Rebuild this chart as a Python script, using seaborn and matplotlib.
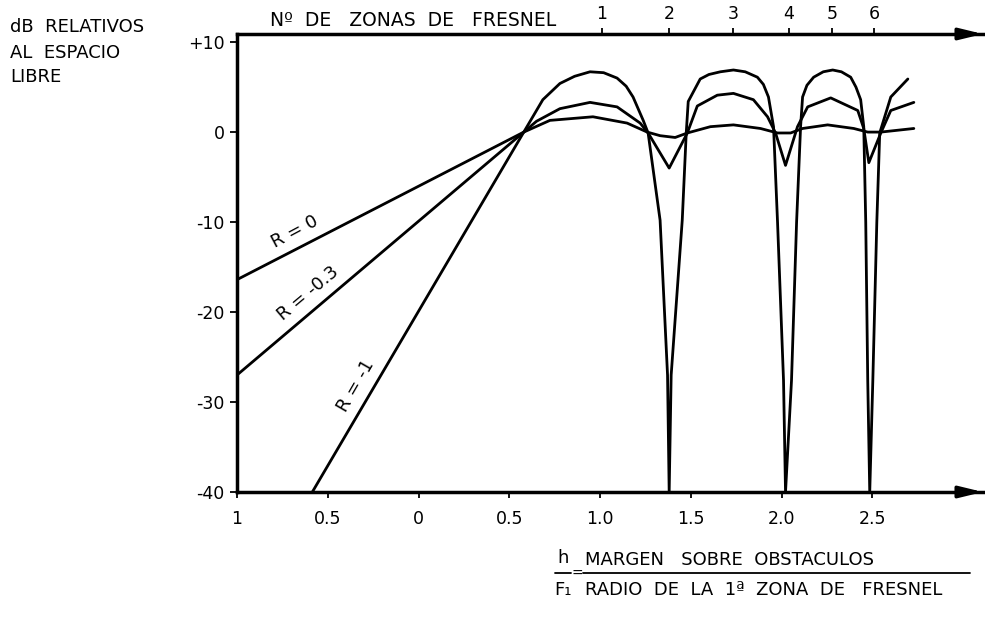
import matplotlib
matplotlib.use("Agg")
import matplotlib.pyplot as plt
from matplotlib.lines import Line2D
import pandas as pd
import seaborn as sns

# ---------------- data ----------------
# h/F1 (x) and dB relative to free space (y)
r0_h = [-1.0, 0.58, 0.724, 0.961, 1.149, 1.26, 1.331, 1.414, 1.481, 1.608,
        1.735, 1.884, 1.978, 2.05, 2.116, 2.254, 2.398, 2.475, 2.547, 2.729]
r0_db = [-16.4, 0.0, 1.3, 1.7, 1.0, 0.0, -0.4, -0.6, -0.1, 0.6,
         0.8, 0.4, -0.1, -0.1, 0.4, 0.8, 0.4, 0.0, 0.0, 0.4]

r03_h = [-1.0, 0.58, 0.65, 0.779, 0.945, 1.094, 1.221, 1.265, 1.381, 1.481,
         1.536, 1.646, 1.735, 1.845, 1.923, 1.967, 2.022, 2.088, 2.144, 2.271,
         2.420, 2.453, 2.481, 2.547, 2.602, 2.729]
r03_db = [-27.0, 0.0, 1.2, 2.6, 3.3, 2.8, 1.0, -0.1, -4.0, -0.1,
          2.9, 4.1, 4.3, 3.6, 1.7, -0.1, -3.7, 0.6, 2.8, 3.8,
          2.4, 0.4, -3.4, -0.1, 2.4, 3.3]

r1_h = [-0.585, 0.58, 0.685, 0.779, 0.86, 0.945, 1.02, 1.094, 1.144, 1.182,
        1.238, 1.265, 1.331, 1.372, 1.381, 1.392, 1.453, 1.475, 1.486, 1.552,
        1.60, 1.663, 1.735, 1.80, 1.867, 1.90, 1.928, 1.956, 1.978, 2.011,
        2.022, 2.055, 2.083, 2.105, 2.116, 2.14, 2.177, 2.23, 2.282, 2.33,
        2.381, 2.41, 2.436, 2.453, 2.464, 2.475, 2.486, 2.503, 2.525, 2.541,
        2.602, 2.696]
r1_db = [-40.0, 0.0, 3.6, 5.4, 6.2, 6.7, 6.6, 6.0, 5.1, 3.9,
         1.3, -0.1, -9.8, -27.0, -40.0, -27.0, -9.8, -0.1, 3.4, 5.9,
         6.4, 6.7, 6.9, 6.7, 6.1, 5.3, 3.9, 0.6, -10.0, -27.6,
         -40.0, -27.6, -10.0, 0.6, 3.9, 5.2, 6.1, 6.7, 6.9, 6.7,
         6.1, 5.0, 3.6, 0.6, -10.0, -27.6, -40.0, -27.6, -10.0, -0.1,
         3.9, 5.9]

curve_names = ["R = 0", "R = -0.3", "R = -1"]

x_ticks = [-1.0, -0.5, 0.0, 0.5, 1.0, 1.5, 2.0, 2.5]
x_tick_labels = ["1", "0.5", "0", "0.5", "1.0", "1.5", "2.0", "2.5"]
y_ticks = [10, 0, -10, -20, -30, -40]
y_tick_labels = ["+10", "0", "-10", "-20", "-30", "-40"]
zone_positions = [1.01, 1.38, 1.735, 2.04, 2.28, 2.51]
zone_labels = ["1", "2", "3", "4", "5", "6"]

# ---------------- figure ----------------
sns.set_theme(style="ticks")
plt.rcParams["font.family"] = ["DejaVu Sans"]
for k in ["text.color", "axes.labelcolor", "xtick.color", "ytick.color",
          "axes.edgecolor"]:
    plt.rcParams[k] = "black"

W, H = 985, 619
fig = plt.figure(figsize=(W / 100, H / 100), dpi=100)
fig.patch.set_facecolor("white")
ax = fig.add_axes([237 / W, 1 - 492 / H, (983 - 237) / W, (492 - 34) / H])
ax.set_facecolor("white")

rows = []
for name, xs, ys in zip(curve_names, [r0_h, r03_h, r1_h], [r0_db, r03_db, r1_db]):
    for i, (a, b) in enumerate(zip(xs, ys)):
        rows.append({"curve": name, "idx": i, "h": a, "db": b})
df = pd.DataFrame(rows)

sns.lineplot(data=df, x="h", y="db", hue="curve", estimator=None, sort=False,
             palette=["black"] * 3, legend=False, linewidth=2.0, ax=ax)

ax.set_xlim(-1.0, 3.11)
ax.set_ylim(-40, 10.9)
ax.set_xlabel("")
ax.set_ylabel("")

for s in ["left", "top", "bottom"]:
    ax.spines[s].set_linewidth(2.5)
    ax.spines[s].set_color("black")
ax.spines["right"].set_visible(False)

ax.set_xticks(x_ticks, x_tick_labels)
ax.set_yticks(y_ticks, y_tick_labels)
ax.tick_params(axis="x", direction="out", length=4, width=1.3, pad=9,
               labelsize=12.5, colors="black", bottom=True, top=False)
ax.tick_params(axis="y", direction="out", length=5, width=1.3, pad=4,
               labelsize=12.5, colors="black", left=True, right=False)

ax2 = ax.twiny()
ax2.set_xlim(ax.get_xlim())
ax2.set_xticks(zone_positions, zone_labels)
ax2.tick_params(axis="x", direction="out", length=4, width=1.3, pad=4,
                labelsize=12.5, colors="black")
for s in ax2.spines.values():
    s.set_visible(False)

# arrow heads on top and bottom axes
for yy in (0.0, 1.0):
    ax.annotate("", xy=(1.0, yy), xycoords="axes fraction", xytext=(0.97, yy),
                arrowprops=dict(arrowstyle="-|>,head_length=0.7,head_width=0.17",
                                mutation_scale=20, lw=2.5, color="black",
                                shrinkA=0, shrinkB=0), annotation_clip=False)

# curve labels
ax.text(-0.68, -11.1, "R = 0", rotation=28, ha="center", va="center",
        fontsize=13, rotation_mode="anchor")
ax.text(-0.61, -17.9, "R = -0.3", rotation=40, ha="center", va="center",
        fontsize=13, rotation_mode="anchor")
ax.text(-0.345, -28.2, "R = -1", rotation=60, ha="center", va="center",
        fontsize=13, rotation_mode="anchor")

def fx(px):
    return px / W

def fy(py):
    return 1 - py / H

# y axis title
fig.text(fx(10), fy(27), "dB  RELATIVOS", fontsize=13, ha="left", va="center")
fig.text(fx(10), fy(53), "AL  ESPACIO", fontsize=13, ha="left", va="center")
fig.text(fx(10), fy(77), "LIBRE", fontsize=13, ha="left", va="center")

# top title
fig.text(fx(270), fy(20), "Nº  DE   ZONAS  DE   FRESNEL", fontsize=13.5,
         ha="left", va="center")

# bottom fraction label
fig.text(fx(563), fy(558), "h", fontsize=13, ha="center", va="center")
fig.text(fx(563), fy(590), "F₁", fontsize=13, ha="center", va="center")
fig.text(fx(577), fy(574), "=", fontsize=10, ha="center", va="center")
fig.text(fx(585), fy(560), "MARGEN   SOBRE  OBSTACULOS", fontsize=13,
         ha="left", va="center")
fig.text(fx(585), fy(590), "RADIO  DE  LA  1ª  ZONA  DE   FRESNEL", fontsize=13,
         ha="left", va="center")
fig.add_artist(Line2D([fx(555), fx(571)], [fy(573), fy(573)],
                      transform=fig.transFigure, color="black", lw=1.3))
fig.add_artist(Line2D([fx(583), fx(970)], [fy(573), fy(573)],
                      transform=fig.transFigure, color="black", lw=1.3))

fig.savefig("out.png", dpi=100, facecolor="white")
